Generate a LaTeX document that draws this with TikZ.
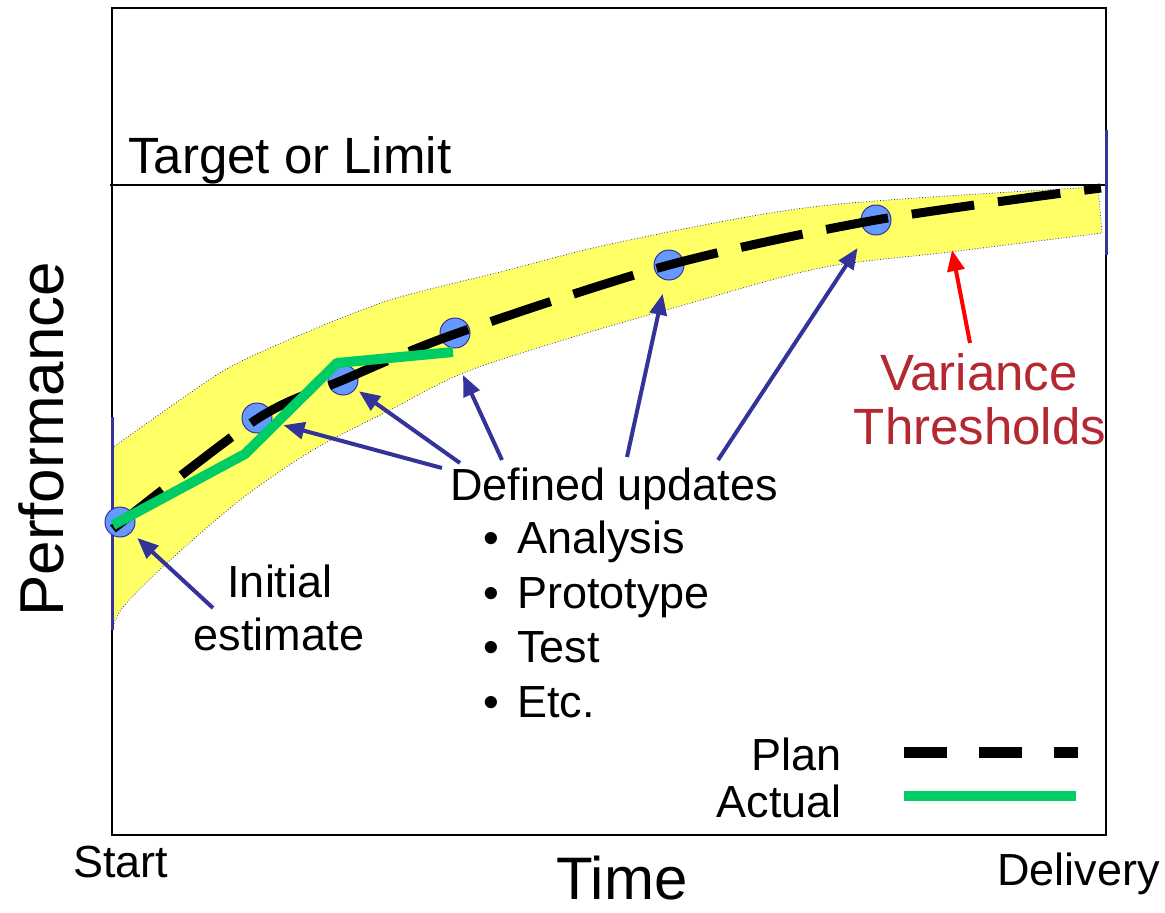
\documentclass[tikz,border=0pt]{standalone}
\usepackage{fontspec}
\setmainfont{Liberation Sans}
\usepackage{tikz}
\usetikzlibrary{arrows.meta}
\definecolor{bandyellow}{HTML}{FFFF66}
\definecolor{dotblue}{HTML}{6699FF}
\definecolor{navy}{HTML}{333399}
\definecolor{actualgreen}{HTML}{00CC66}
\definecolor{varred}{RGB}{180,40,50}

\begin{document}
\begin{tikzpicture}[x=1pt, y=-1pt,
  lbl/.style={inner sep=0pt, font=\fontsize{45}{54}\selectfont},
  midlbl/.style={inner sep=0pt, font=\fontsize{51}{60}\selectfont},
  biglbl/.style={inner sep=0pt, font=\fontsize{62}{74}\selectfont},
  updpt/.style={circle, draw=navy, fill=dotblue, line width=1pt, minimum size=30pt, inner sep=0pt},
  ptr/.style={navy, line width=4pt, -{Triangle[length=21pt,width=17pt]}},
  planline/.style={line width=9pt, dash pattern=on 63pt off 24pt},
  actualline/.style={actualgreen, line width=10pt, line join=round}]
  \useasboundingbox (0,0) rectangle (1165,913);
  \draw[line width=2.2pt] (112,8) rectangle (1106,835);
  \draw[line width=2pt] (110,185) -- (1106,185);
  \filldraw[fill=bandyellow, draw=navy, line width=0.8pt, dotted]
    plot[smooth] coordinates {(112,448) (180,400) (230,367) (300,335) (390,300) (500,272) (620,242) (820,206) (1098,187)}
    -- (1102,233)
    -- plot[smooth] coordinates {(1102,233) (950,252) (820,268) (680,306) (560,341) (463,373) (390,410) (313,450) (240,500) (167,563) (123,607) (112,630)}
    -- cycle;
  \draw[navy, line width=3pt] (112,417) -- (112,630);
  \draw[navy, line width=3pt] (1106,130) -- (1106,255);

  \node[updpt] (p0) at (120,522) {};
  \node[updpt] (p1) at (257,418) {};
  \node[updpt] (p2) at (343,380) {};
  \node[updpt] (p3) at (455,333) {};
  \node[updpt] (p4) at (669,265) {};
  \node[updpt] (p5) at (876,220) {};
  \draw[planline] plot[smooth] coordinates {(113,529) (257,419) (343,380) (455,334) (669,265) (876,220) (1101,188)};
  \draw[actualline] (113,525) -- (245,454) -- (337,363) -- (453,352);

  \node[midlbl, anchor=base west] (target) at (128,173) {Target or Limit};
  \node[biglbl, rotate=90, anchor=base west] (perf) at (63,617) {Performance};
  \node[inner sep=0pt, font=\fontsize{60}{72}\selectfont, anchor=base] (time) at (622,899) {Time};
  \node[lbl, anchor=base west] (start) at (73,877) {Start};
  \node[lbl, anchor=base east] (deliv) at (1160,885) {Delivery};
  \node[midlbl, text=varred, anchor=base] (var) at (979,390) {Variance};
  \node[midlbl, text=varred, anchor=base] (thr) at (980,444) {Thresholds};
  \node[lbl, anchor=base] (init) at (280,597) {Initial};
  \node[lbl, anchor=base] (est) at (279,650) {estimate};
  \node[lbl, anchor=base west] (upd) at (450,500) {Defined updates};
  \foreach \y/\t in {553/Analysis, 608/Prototype, 662/Test, 717/Etc.} {
    \node[lbl, anchor=base] (dot\y) at (491,\y) {\textbullet};
    \node[lbl, anchor=base west] (item\y) at (517,\y) {\t};
  }
  \node[lbl, anchor=base east] (plan) at (842,770) {Plan};
  \node[lbl, anchor=base east] (actual) at (842,817) {Actual};
  \draw[line width=11pt, dash pattern=on 43pt off 32pt] (904,752) -- (1078,752);
  \draw[actualline] (904,796) -- (1076,796);

  \coordinate (i0) at (213,608);
  \coordinate (u1) at (442,468);
  \coordinate (u2) at (460,463);
  \coordinate (u3) at (502,460);
  \coordinate (u4) at (627,457);
  \coordinate (u5) at (718,460);
  \coordinate (e3) at (463,375);
  \coordinate (r0) at (970,343);
  \coordinate (r1) at (952,250);
  \draw[ptr, shorten >=8pt] (i0) -- (p0);
  \draw[ptr, shorten >=12pt] (u1) -- (p1);
  \draw[ptr, shorten >=4pt] (u2) -- (p2);
  \draw[ptr] (u3) -- (e3);
  \draw[ptr, shorten >=14pt] (u4) -- (p4);
  \draw[ptr, shorten >=18pt] (u5) -- (p5);
  \draw[ptr, red] (r0) -- (r1);
\end{tikzpicture}
\end{document}
